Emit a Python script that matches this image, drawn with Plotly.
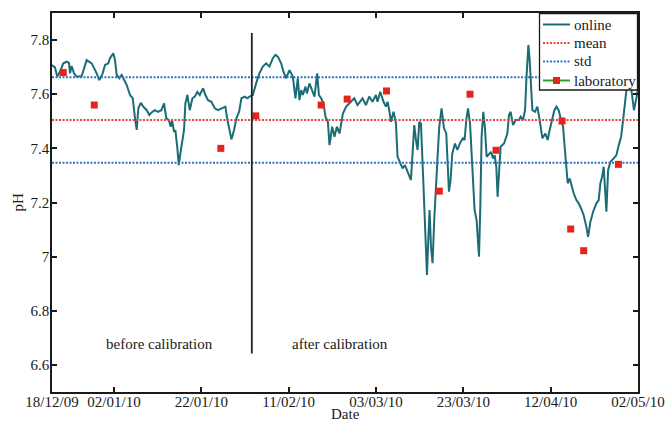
import pandas as pd
import plotly.graph_objects as go

# ---------------- data (days since 2010-01-01, pH) ----------------
online_day = [
    -13.28, -12.52, -12.0, -11.38, -10.62, -9.84, -9.31, -9.08, -8.70, -8.17,
    -7.55, -6.40, -5.26, -4.11, -2.97, -2.37, -1.59, -1.06, -0.31, 0.08,
    0.84, 1.23, 1.62, 2.21, 2.76, 3.29, 3.91, 4.67, 5.29, 5.81,
    6.20, 6.57, 7.12, 7.72, 8.49, 9.09, 9.55, 10.33, 11.08, 11.84,
    12.46, 12.99, 13.54, 14.0, 14.29, 14.75, 15.05, 15.51, 15.83, 16.20,
    16.59, 17.04, 17.34, 17.80, 18.35, 18.95, 19.50, 20.09, 20.64, 21.40,
    21.93, 22.54, 23.30, 24.08, 24.84, 25.59, 26.51, 26.90, 27.36, 27.89,
    28.50, 29.03, 29.65, 30.18, 30.96, 31.55, 32.01, 32.79, 33.55, 34.30,
    35.08, 35.84, 36.60, 37.37, 37.97, 38.52, 39.28, 39.80, 40.42, 41.18,
    41.96, 42.55, 43.10, 43.47, 43.86, 44.25, 44.85, 45.17, 45.76, 46.38,
    46.91, 47.53, 47.92, 48.44, 48.97, 49.43, 49.98, 50.35, 50.96, 51.49,
    52.04, 52.64, 53.42, 54.17, 54.47, 55.25, 56.01, 56.76, 57.91, 58.69,
    59.44, 60.20, 60.98, 61.35, 61.97, 62.72, 63.27, 63.64, 64.03, 64.42,
    65.02, 65.57, 65.93, 66.55, 67.08, 67.63, 68.09, 68.61, 69.0, 69.37,
    69.76, 70.15, 70.52, 70.91, 71.29, 71.82, 72.05, 72.44, 72.67, 72.97,
    73.27, 73.59, 73.95, 74.34, 74.73, 75.10, 75.49, 76.02, 76.56, 77.09,
    77.71, 78.08, 78.47, 79.09, 79.62, 80.37, 80.92, 81.29, 81.68, 82.07,
    82.53, 83.05, 83.58, 84.04, 84.59, 84.89, 85.18, 85.57, 85.96, 86.33,
    86.88, 87.34, 87.80, 88.17, 88.55, 88.85, 89.17, 89.54, 90.32, 91.08,
    91.46, 91.83, 92.38, 92.98, 93.76, 94.12, 94.67, 95.13, 95.43, 95.89,
    96.19, 96.51, 96.81, 97.42, 97.95, 98.48, 99.10, 99.79, 100.31, 100.77,
    101.32, 101.85, 102.31, 102.83, 103.38, 103.84, 104.14, 104.60, 104.90, 105.36,
    105.90, 106.27, 106.89, 107.42, 107.97, 108.56, 109.18, 109.57, 110.10, 110.72,
    111.48, 112.0, 112.39, 112.78, 113.15, 113.53, 113.76, 114.16, 114.68, 115.44,
    116.06, 116.59, 117.14, 117.59, 117.89, 118.35, 118.81, 119.50, 120.07, 120.64,
    121.0,
]
online_ph = [
    7.708, 7.699, 7.665, 7.683, 7.714, 7.720, 7.716, 7.677, 7.704, 7.677,
    7.665, 7.667, 7.726, 7.714, 7.677, 7.652, 7.677, 7.708, 7.714, 7.733,
    7.751, 7.726, 7.671, 7.659, 7.671, 7.655, 7.634, 7.597, 7.585, 7.511,
    7.468, 7.548, 7.568, 7.554, 7.541, 7.523, 7.532, 7.541, 7.535, 7.541,
    7.566, 7.511, 7.505, 7.480, 7.505, 7.461, 7.468, 7.400, 7.338, 7.381,
    7.431, 7.468, 7.566, 7.597, 7.541, 7.585, 7.591, 7.609, 7.597, 7.622,
    7.597, 7.578, 7.572, 7.548, 7.541, 7.548, 7.554, 7.511, 7.480, 7.433,
    7.468, 7.511, 7.535, 7.585, 7.591, 7.585, 7.591, 7.597, 7.640, 7.677,
    7.702, 7.714, 7.702, 7.733, 7.745, 7.739, 7.714, 7.683, 7.659, 7.689,
    7.665, 7.585, 7.659, 7.578, 7.615, 7.597, 7.628, 7.603, 7.640, 7.615,
    7.591, 7.677, 7.597, 7.585, 7.566, 7.517, 7.498, 7.412, 7.480, 7.443,
    7.480, 7.455, 7.529, 7.554, 7.560, 7.572, 7.585, 7.560, 7.585, 7.560,
    7.591, 7.572, 7.597, 7.572, 7.609, 7.572, 7.554, 7.572, 7.541, 7.498,
    7.535, 7.492, 7.369, 7.345, 7.326, 7.338, 7.320, 7.295, 7.283, 7.381,
    7.486, 7.431, 7.394, 7.498, 7.492, 7.283, 7.197, 7.061, 6.932, 7.061,
    7.172, 7.036, 6.976, 7.135, 7.234, 7.369, 7.480, 7.548, 7.475, 7.455,
    7.240, 7.283, 7.381, 7.418, 7.394, 7.424, 7.437, 7.431, 7.505, 7.548,
    7.492, 7.350, 7.172, 7.135, 7.000, 7.184, 7.443, 7.535, 7.474, 7.369,
    7.381, 7.387, 7.363, 7.375, 7.332, 7.221, 7.308, 7.406, 7.418, 7.455,
    7.523, 7.535, 7.486, 7.505, 7.505, 7.517, 7.505, 7.541, 7.652, 7.782,
    7.726, 7.603, 7.541, 7.535, 7.554, 7.505, 7.437, 7.455, 7.431, 7.468,
    7.505, 7.541, 7.554, 7.541, 7.505, 7.480, 7.418, 7.345, 7.271, 7.289,
    7.258, 7.234, 7.209, 7.197, 7.178, 7.153, 7.110, 7.073, 7.129, 7.166,
    7.197, 7.209, 7.271, 7.295, 7.332, 7.246, 7.166, 7.320, 7.350, 7.363,
    7.375, 7.412, 7.443, 7.505, 7.554, 7.622, 7.682, 7.615, 7.541, 7.586,
    7.623,
]

lab_day = [-10.62, -3.52, 25.46, 33.48, 48.44, 54.40, 63.41, 75.49, 82.53, 88.49,
           103.61, 105.58, 108.56, 116.51]
lab_ph = [7.68, 7.56, 7.40, 7.52, 7.56, 7.582, 7.612, 7.242, 7.60, 7.393,
          7.501, 7.102, 7.022, 7.341]

mean_ph = 7.505
std_ph = 0.158

calibration_day = 32.56
calibration_ph_span = [6.642, 7.826]

axis_day_range = [-13.2, 121.0]
tick_days = [-13.2, 1, 21, 41, 61, 81, 101, 121]
tick_labels = ["18/12/09", "02/01/10", "22/01/10", "11/02/10", "03/03/10",
               "23/03/10", "12/04/10", "02/05/10"]
y_ticks = [6.6, 6.8, 7.0, 7.2, 7.4, 7.6, 7.8]
y_tick_labels = ["6.6", "6.8", "7", "7.2", "7.4", "7.6", "7.8"]

region_labels = ["before calibration", "after calibration"]
region_label_days = [11.47, 52.8]
region_label_ph = 6.677

legend_names = ["online", "mean", "std", "laboratory"]

# ---------------- helpers ----------------
W, H = 666, 423
ML, MR, MT, MB = 52, 28, 13, 31
PW, PH = W - ML - MR, H - MT - MB

base = pd.Timestamp("2010-01-01")


def to_dates(days):
    return [base + pd.Timedelta(days=float(d)) for d in days]


def px(xp):
    return (xp - ML) / PW


def py(yp):
    return (H - MB - yp) / PH


FONT = "Liberation Serif, Times New Roman, serif"
TXT = "#1a1a1a"
TEAL = "#1c6c76"
RED = "#e8463c"
BLUE = "#2f74c0"
GREEN = "#2ea02c"
SQUARE = "#e8231d"
DOTS = "2px,1.5px"

range_dates = to_dates(axis_day_range)

fig = go.Figure()

fig.add_trace(go.Scatter(
    x=to_dates(online_day), y=online_ph, mode="lines", name="online",
    line=dict(color=TEAL, width=2)))

fig.add_trace(go.Scatter(
    x=range_dates, y=[mean_ph, mean_ph], mode="lines", name="mean",
    line=dict(color=RED, width=2, dash=DOTS)))

fig.add_trace(go.Scatter(
    x=[range_dates[0], range_dates[1], None, range_dates[0], range_dates[1]],
    y=[mean_ph + std_ph, mean_ph + std_ph, None, mean_ph - std_ph, mean_ph - std_ph],
    mode="lines", name="std",
    line=dict(color=BLUE, width=2, dash=DOTS)))

fig.add_trace(go.Scatter(
    x=to_dates(lab_day), y=lab_ph, mode="markers", name="laboratory",
    marker=dict(symbol="square", size=7, color=SQUARE)))

cal_date = to_dates([calibration_day])[0]
fig.add_trace(go.Scatter(
    x=[cal_date, cal_date], y=calibration_ph_span, mode="lines",
    line=dict(color="#222222", width=1.8), hoverinfo="skip"))

for txt, d in zip(region_labels, region_label_days):
    fig.add_annotation(x=to_dates([d])[0], y=region_label_ph, text=txt,
                       showarrow=False, xanchor="center", yanchor="middle",
                       font=dict(family=FONT, size=15, color=TXT))

fig.add_annotation(xref="paper", yref="paper", x=0.5, y=py(423), text="Date",
                   showarrow=False, xanchor="center", yanchor="bottom",
                   borderpad=0,
                   font=dict(family=FONT, size=15, color=TXT))
fig.add_annotation(xref="paper", yref="paper", x=px(17), y=0.5, text="pH",
                   textangle=-90, showarrow=False, xanchor="center", yanchor="middle",
                   font=dict(family=FONT, size=15, color=TXT))

# ---------------- legend box (drawn to match the original layout) ----------------
box = dict(x0=539.5, x1=637.5, y0=13.5, y1=90)
fig.add_shape(type="rect", xref="paper", yref="paper",
              x0=px(box["x0"]), x1=px(box["x1"]), y0=py(box["y1"]), y1=py(box["y0"]),
              fillcolor="white", line=dict(color="#1a1a1a", width=1.3), layer="above")
row_y = [24.5, 43, 61.5, 80.5]
styles = [dict(color=TEAL, width=2), dict(color=RED, width=2, dash=DOTS),
          dict(color=BLUE, width=2, dash=DOTS), dict(color=GREEN, width=2)]
for name, ry, st in zip(legend_names, row_y, styles):
    fig.add_shape(type="line", xref="paper", yref="paper",
                  x0=px(543), x1=px(570), y0=py(ry), y1=py(ry), line=st, layer="above")
    fig.add_annotation(xref="paper", yref="paper", x=px(571.5), y=py(ry), text=name,
                       showarrow=False, xanchor="left", yanchor="middle",
                       font=dict(family=FONT, size=15, color=TXT))
fig.add_shape(type="rect", xref="paper", yref="paper",
              x0=px(553), x1=px(560), y0=py(row_y[3] + 3.5), y1=py(row_y[3] - 3.5),
              fillcolor=SQUARE, line=dict(width=0), layer="above")

axis_common = dict(showline=True, linecolor="#1a1a1a", linewidth=1.5, mirror="ticks",
                   ticks="inside", ticklen=5, tickwidth=1.5, tickcolor="#1a1a1a",
                   showgrid=False, zeroline=False, automargin=False,
                   tickfont=dict(family=FONT, size=15, color=TXT))

fig.update_xaxes(type="date", range=range_dates, tickmode="array",
                 tickvals=to_dates(tick_days), ticktext=tick_labels,
                 ticklabelstandoff=-5, **axis_common)
fig.update_yaxes(range=[6.5, 7.9], tickmode="array", tickvals=y_ticks,
                 ticktext=y_tick_labels, ticklabelstandoff=-2, **axis_common)

fig.update_layout(
    template="none",
    width=W, height=H,
    margin=dict(l=ML, r=MR, t=MT, b=MB, pad=0),
    paper_bgcolor="white", plot_bgcolor="white",
    font=dict(family=FONT, size=15, color=TXT),
    showlegend=False,
)

fig.write_html("out.html")
